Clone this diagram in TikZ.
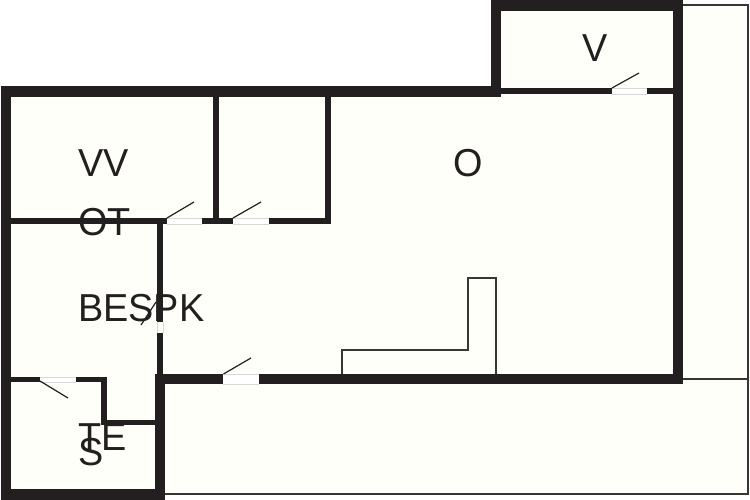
\documentclass[tikz,border=0pt]{standalone}
\usepackage{fontspec}
\setmainfont{Liberation Sans}
\definecolor{wallcol}{HTML}{231F20}
\definecolor{floorcol}{HTML}{FFFFFA}
\definecolor{gapcol}{HTML}{D8D8D2}
\tikzset{
  room/.style={inner sep=0pt, anchor=base west, text=wallcol, xscale=0.97, font=\fontsize{39}{39}\selectfont},
  outline/.style={draw=wallcol!90, line width=1.7pt},
  fitting/.style={draw=wallcol!90, line width=1.3pt},
  swing/.style={draw=wallcol, line width=1.2pt}
}
\newcommand{\drawwall}[4]{
  \fill[wallcol] (#1,#2) rectangle (#3,#4);
}
\newcommand{\drawgap}[4]{
  \fill[white] (#1,#2) rectangle (#3,#4);
  \draw[gapcol, line width=0.5pt] (#1,#2) -- (#3,#2);
  \draw[gapcol, line width=0.5pt] (#1,#4) -- (#3,#4);
}
\begin{document}
\begin{tikzpicture}[x=1pt,y=-1pt]
  \useasboundingbox (0,0) rectangle (750,500);
  \fill[floorcol] (1,86) -- (491,86) -- (491,0) -- (683,0) -- (683,5) -- (748,5)
    -- (748,494) -- (165,494) -- (165,500) -- (1,500) -- cycle;
  % thin outlines outside
  \draw[outline] (683,5) -- (748,5) -- (748,494) -- (165,494);
  \draw[outline] (683,379) -- (748,379);
  \draw[fitting] (342,374) -- (342,350) -- (468,350) -- (468,278) -- (496,278) -- (496,374);
  % outer walls
  \drawwall{1}{86}{501}{97}
  \drawwall{1}{86}{11}{500}
  \drawwall{1}{489}{165}{500}
  \drawwall{155}{374}{165}{500}
  \drawwall{491}{0}{683}{11}
  \drawwall{491}{0}{501}{97}
  \drawwall{673}{0}{683}{384}
  \drawwall{155}{374}{223}{384}
  \drawwall{259}{374}{683}{384}
  % inner walls
  \drawwall{501}{88}{612}{94.5}
  \drawwall{647}{88}{673}{94.5}
  \drawwall{213}{97}{219}{224}
  \drawwall{325}{97}{331}{224}
  \drawwall{11}{218}{167}{224}
  \drawwall{202}{218}{233}{224}
  \drawwall{269}{218}{331}{224}
  \drawwall{157}{218}{163}{322}
  \drawwall{157}{333}{163}{374}
  \drawwall{11}{377}{40}{382}
  \drawwall{76}{377}{107}{382}
  \drawwall{101}{377}{107}{425}
  \drawwall{101}{420}{155}{425}
  % door gaps
  \drawgap{612}{88}{647}{94.5}
  \drawgap{167}{218}{202}{224}
  \drawgap{233}{218}{269}{224}
  \drawgap{223}{374}{259}{384}
  \drawgap{40}{377}{76}{382}
  \draw[gapcol, line width=0.5pt] (157,322) -- (157,333);
  \draw[gapcol, line width=0.5pt] (163,322) -- (163,333);
  % door swings
  \foreach \x/\y/\u/\v in {612/88/639/73, 167/218/194/202, 233/218/261/202,
      223.5/374/251/358, 40/381/68/398, 156/302/141/325}{
    \draw[swing] (\x,\y) -- (\u,\v);
  }
  % labels
  \node[room] (vv) at (78,177) {VV};
  \node[room] (ot) at (78,235) {OT};
  \node[room] (bespk) at (78,321) {BESPK};
  \node[room] (te) at (78,450) {TE};
  \node[room] (s) at (78,465) {S};
  \node[room] (o) at (453.5,177) {O};
  \node[room] (v) at (582,62) {V};
\end{tikzpicture}
\end{document}
